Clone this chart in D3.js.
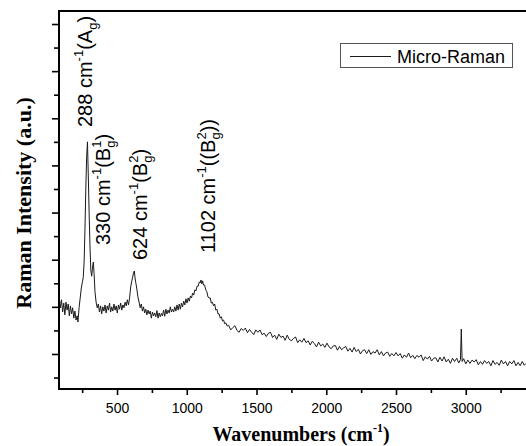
<!DOCTYPE html>
<html>
<head>
<meta charset="utf-8">
<script src="https://cdn.jsdelivr.net/npm/d3@7"></script>
<style>
  body { margin: 0; background: #fff; }
  svg { display: block; }
</style>
</head>
<body>
<svg id="chart" width="526" height="446"></svg>
<script>
// Micro-Raman spectrum: [wavenumber (cm^-1), intensity (a.u.)]
const ramanSpectrum = [
  [86,219],[94,198],[102,215],[110,189],[118,208],[126,183],[134,210],[142,193],[150,206],[158,181],
  [166,202],[174,185],[182,198],[190,176],[198,191],[206,172],[214,181],[220,168],
  [228,198],[236,219],[244,240],[252,253],[258,263],[264,295],[270,363],[276,448],[282,516],[288,550],
  [294,480],[300,399],[306,331],[312,278],[318,265],[324,282],[330,295],[336,268],[342,232],
  [350,210],[358,198],[366,206],[374,189],[382,202],[390,185],[398,200],[406,191],[414,204],[422,187],
  [430,202],[438,193],[446,208],[454,189],[462,200],[470,191],[478,206],[486,193],[494,202],[502,187],
  [510,204],[518,195],[526,208],[534,193],[542,204],[550,198],[558,210],[566,202],[574,215],
  [582,204],[590,219],[598,242],[606,255],[612,263],[618,272],[624,276],[630,259],[636,249],[642,238],
  [650,221],[658,210],[666,198],[674,206],[682,191],[690,200],[698,187],[706,195],[714,183],[722,193],
  [730,185],[738,191],[746,176],[754,189],[762,181],[770,187],[778,179],[786,192],[794,176],[802,187],
  [810,179],[818,186],[826,181],[834,193],[842,180],[850,195],[858,185],[866,193],[874,187],[882,200],
  [890,189],[898,195],[906,189],[914,200],[922,191],[930,204],[938,193],[946,206],[954,195],[962,208],
  [970,200],[978,212],[986,204],[994,217],[1002,208],[1010,219],[1018,212],[1026,223],[1034,219],[1042,229],
  [1050,225],[1058,236],[1066,234],[1074,244],[1082,244],[1090,253],
  [1096,251],[1102,257],[1108,249],[1114,255],[1120,246],
  [1128,246],[1136,236],[1144,232],[1152,221],[1160,219],[1168,219],[1176,208],[1184,210],[1192,202],[1200,206],
  [1208,193],[1216,195],[1224,185],[1232,185],[1240,176],[1248,179],[1256,170],[1264,172],[1272,164],[1280,166],
  [1290,159],
  [1300,161],[1315,151],[1330,156],[1345,160],[1360,150],[1375,146],[1390,154],[1405,150],[1420,155],[1435,145],
  [1450,152],[1465,146],[1480,141],[1495,151],[1510,146],[1525,151],[1540,141],[1555,144],[1570,137],[1585,144],
  [1600,146],[1615,135],[1630,140],[1645,131],[1660,142],[1675,135],[1690,138],[1705,129],[1720,140],[1735,131],
  [1750,128],[1765,133],[1780,136],[1795,124],[1810,130],[1825,125],[1840,133],[1855,124],[1870,128],[1885,119],
  [1900,127],[1915,122],[1930,115],[1945,125],[1960,117],[1975,121],[1990,114],[2005,123],[2020,115],[2035,111],
  [2050,117],[2065,118],[2080,108],[2095,116],[2110,109],[2125,113],[2140,116],[2155,106],[2170,112],[2185,104],
  [2200,114],[2215,105],[2230,110],[2245,100],[2260,107],[2275,109],[2290,101],[2305,109],[2320,99],[2335,105],
  [2350,102],[2365,109],[2380,98],[2395,105],[2410,96],[2425,102],[2440,104],[2455,95],[2470,101],[2485,96],
  [2500,103],[2515,96],[2530,101],[2545,91],[2560,98],[2575,93],[2590,102],[2605,92],[2620,97],[2635,90],
  [2650,97],[2665,93],[2680,98],[2695,86],[2710,94],[2725,89],[2740,95],[2755,85],[2770,91],[2785,92],
  [2800,83],[2815,93],[2830,85],[2845,94],[2860,83],[2875,89],[2890,80],[2905,91],[2920,84],[2935,91],
  [2950,81],[2962,88],[2968,153],[2974,84],[2985,90],[3000,79],[3015,87],[3030,80],[3045,87],[3060,83],
  [3075,88],[3090,77],[3105,84],[3120,78],[3135,86],[3150,80],[3165,84],[3180,75],[3195,86],[3210,78],
  [3225,82],[3240,76],[3255,87],[3270,79],[3285,84],[3300,75],[3315,84],[3330,79],[3345,86],[3360,75],
  [3375,82],[3390,75],[3405,84],[3420,76],[3432,80]
];

const xMajorTicks = [500, 1000, 1500, 2000, 2500, 3000];
const xMinorTicks = [250, 750, 1250, 1750, 2250, 2750, 3250];
const yMajorTicks = [100, 200, 300, 400, 500, 600, 700, 800];
const yMinorTicks = [50, 150, 250, 350, 450, 550, 650, 750];

// Assigned Raman modes
const peakWavenumbers = [288, 330, 624, 1102];
const peakModes = [
  [["n", "288 cm"], ["sup", "-1"], ["n", "(A"], ["sub", "g"], ["n", ")"]],
  [["n", "330 cm"], ["sup", "-1"], ["n", "(B"], ["stack", "1", "g"], ["n", ")"]],
  [["n", "624 cm"], ["sup", "-1"], ["n", "(B"], ["stack", "2", "g"], ["n", ")"]],
  [["n", "1102 cm"], ["sup", "-1"], ["n", "((B"], ["stack", "2", "g"], ["n", "))"]]
];
const seriesName = "Micro-Raman";

const SANS = "'Liberation Sans', Arial, Helvetica, sans-serif";
const SERIF = "'Liberation Serif', 'Times New Roman', Times, serif";

const svg = d3.select("#chart");
const plotLeft = 59, plotRight = 535.5, plotTop = 11, plotBottom = 389;

const x = d3.scaleLinear().domain([84, 3500]).range([plotLeft, plotRight]);
const y = d3.scaleLinear().domain([25.7, 827.6]).range([plotBottom, plotTop]);

// spectrum trace
const line = d3.line().x(d => x(d[0])).y(d => y(d[1]));
svg.append("path")
  .datum(ramanSpectrum)
  .attr("d", line)
  .attr("fill", "none")
  .attr("stroke", "#1a1a1a")
  .attr("stroke-width", 1)
  .attr("stroke-linejoin", "round");

// axes
function styleAxis(g, width) {
  g.select(".domain").remove();
  g.selectAll(".tick line").attr("stroke", "#000").attr("stroke-width", width);
}
svg.append("g").attr("transform", `translate(0,${plotBottom})`)
  .call(d3.axisBottom(x).tickValues(xMajorTicks).tickSize(6).tickPadding(8).tickFormat(d3.format("d")))
  .call(g => styleAxis(g, 1.6))
  .call(g => g.selectAll("text").attr("font-family", SANS).attr("font-size", 14).attr("fill", "#000"));
svg.append("g").attr("transform", `translate(0,${plotBottom})`)
  .call(d3.axisBottom(x).tickValues(xMinorTicks).tickSize(4).tickFormat(""))
  .call(g => styleAxis(g, 1.6));
svg.append("g").attr("transform", `translate(${plotLeft},0)`)
  .call(d3.axisLeft(y).tickValues(yMajorTicks).tickSize(7).tickFormat(""))
  .call(g => styleAxis(g, 1.6));
svg.append("g").attr("transform", `translate(${plotLeft},0)`)
  .call(d3.axisLeft(y).tickValues(yMinorTicks).tickSize(5).tickFormat(""))
  .call(g => styleAxis(g, 1.6));

// frame
const frame = svg.append("g").attr("stroke", "#000").attr("stroke-width", 2).attr("fill", "none");
frame.append("line").attr("x1", plotLeft).attr("x2", plotLeft).attr("y1", plotTop - 1).attr("y2", plotBottom + 1);
frame.append("line").attr("x1", plotLeft - 1).attr("x2", plotRight).attr("y1", plotBottom).attr("y2", plotBottom);
frame.append("line").attr("x1", plotLeft - 1).attr("x2", plotRight).attr("y1", plotTop).attr("y2", plotTop);

// axis titles
svg.append("text")
  .attr("transform", "translate(31,203) rotate(-90)")
  .attr("text-anchor", "middle")
  .attr("font-family", SERIF).attr("font-weight", "bold").attr("font-size", 22)
  .text("Raman Intensity (a.u.)");

const xt = svg.append("text")
  .attr("x", 301).attr("y", 441)
  .attr("text-anchor", "middle")
  .attr("font-family", SERIF).attr("font-weight", "bold").attr("font-size", 20);
xt.append("tspan").text("Wavenumbers (cm");
xt.append("tspan").attr("dy", -9).attr("font-size", 12).text("-1");
xt.append("tspan").attr("dy", 9).text(")");

// peak annotations, rotated to read upward
const labelOffsetX = [4.5, 17, 13, 14];
const labelBaseY = [127, 245, 260, 253];
function addLabel(parts, px, py) {
  const t = svg.append("text")
    .attr("transform", `translate(${px},${py}) rotate(-90)`)
    .attr("font-family", SANS).attr("font-size", 20).attr("fill", "#000");
  let shift = 0;
  const SUP = -9, SUB = 5, SMALL = 13;
  parts.forEach(p => {
    if (p[0] === "n") {
      t.append("tspan").attr("dy", -shift).text(p[1]);
      shift = 0;
    } else if (p[0] === "sup") {
      t.append("tspan").attr("dy", SUP - shift).attr("font-size", SMALL).text(p[1]);
      shift = SUP;
    } else if (p[0] === "sub") {
      t.append("tspan").attr("dy", SUB - shift).attr("font-size", SMALL).text(p[1]);
      shift = SUB;
    } else if (p[0] === "stack") {
      t.append("tspan").attr("dy", SUP - shift).attr("font-size", SMALL).text(p[1]);
      t.append("tspan").attr("dx", -0.556 * SMALL).attr("dy", SUB - SUP).attr("font-size", SMALL).text(p[2]);
      shift = SUB;
    }
  });
}
peakWavenumbers.forEach((wn, i) => addLabel(peakModes[i], x(wn) + labelOffsetX[i], labelBaseY[i]));

// legend
const lg = svg.append("g");
lg.append("rect").attr("x", 340.5).attr("y", 43.5).attr("width", 172).attr("height", 24)
  .attr("fill", "#fff").attr("stroke", "#555").attr("stroke-width", 1);
lg.append("line").attr("x1", 350).attr("x2", 391).attr("y1", 56.5).attr("y2", 56.5)
  .attr("stroke", "#1a1a1a").attr("stroke-width", 1);
lg.append("text").attr("x", 397).attr("y", 63)
  .attr("font-family", SANS).attr("font-size", 18).attr("fill", "#000")
  .text(seriesName);
</script>
</body>
</html>
